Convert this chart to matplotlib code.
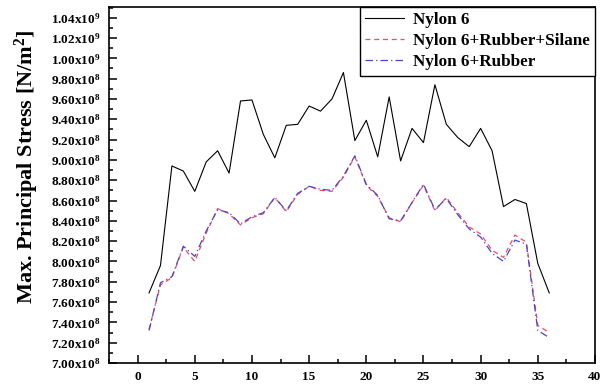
import matplotlib
matplotlib.use("Agg")
import matplotlib.pyplot as plt
from matplotlib.ticker import MultipleLocator, FixedLocator, FuncFormatter

plt.rcParams["font.family"] = ["Liberation Serif", "DejaVu Serif"]
plt.rcParams["font.weight"] = "bold"
plt.rcParams["mathtext.fontset"] = "custom"
plt.rcParams["mathtext.rm"] = "Liberation Serif:bold"
plt.rcParams["mathtext.bf"] = "Liberation Serif:bold"
plt.rcParams["mathtext.default"] = "regular"

# Element / position index along the specimen
positions = list(range(1, 37))

nylon6 = [7.69e8, 7.96e8, 8.94e8, 8.89e8, 8.69e8, 8.98e8, 9.09e8, 8.87e8, 9.58e8, 9.59e8,
          9.25e8, 9.02e8, 9.34e8, 9.35e8, 9.53e8, 9.48e8, 9.60e8, 9.86e8, 9.19e8, 9.39e8,
          9.03e8, 9.62e8, 8.99e8, 9.31e8, 9.17e8, 9.74e8, 9.35e8, 9.22e8, 9.13e8, 9.31e8,
          9.09e8, 8.54e8, 8.61e8, 8.57e8, 7.98e8, 7.69e8]

nylon6_rubber_silane = [7.33e8, 7.77e8, 7.84e8, 8.14e8, 8.00e8, 8.28e8, 8.52e8, 8.47e8, 8.36e8, 8.43e8,
                        8.47e8, 8.63e8, 8.49e8, 8.66e8, 8.74e8, 8.70e8, 8.69e8, 8.83e8, 9.03e8, 8.75e8,
                        8.64e8, 8.43e8, 8.39e8, 8.58e8, 8.75e8, 8.50e8, 8.63e8, 8.48e8, 8.34e8, 8.27e8,
                        8.11e8, 8.04e8, 8.26e8, 8.19e8, 7.37e8, 7.30e8]

nylon6_rubber = [7.32e8, 7.79e8, 7.85e8, 8.15e8, 8.05e8, 8.30e8, 8.51e8, 8.48e8, 8.37e8, 8.44e8,
                 8.48e8, 8.63e8, 8.50e8, 8.67e8, 8.74e8, 8.71e8, 8.70e8, 8.84e8, 9.04e8, 8.76e8,
                 8.65e8, 8.42e8, 8.40e8, 8.58e8, 8.76e8, 8.51e8, 8.62e8, 8.46e8, 8.32e8, 8.24e8,
                 8.08e8, 8.00e8, 8.21e8, 8.17e8, 7.32e8, 7.25e8]

labels = ["Nylon 6", "Nylon 6+Rubber+Silane", "Nylon 6+Rubber"]

fig = plt.figure(figsize=(6.07, 3.90), dpi=100)
ax = fig.add_axes([0.1796, 0.0692, 0.8006, 0.9128])

ax.plot(positions, nylon6, color="black", lw=0.8, ls="-", label=labels[0])
ax.plot(positions, nylon6_rubber_silane, color="#f04a64", lw=0.9,
        ls=(0, (4, 3)), label=labels[1])
ax.plot(positions, nylon6_rubber, color="#4a44c8", lw=0.9,
        ls=(0, (6, 2.5, 1, 2.5)), label=labels[2])

ax.set_xlim(-2.5, 40)
ax.set_ylim(7.0e8, 1.0505e9)

ax.xaxis.set_major_locator(MultipleLocator(5))
ax.xaxis.set_minor_locator(MultipleLocator(2.5))
yt = [7.0e8 + 0.2e8 * k for k in range(18)]
ax.yaxis.set_major_locator(FixedLocator(yt))
ax.yaxis.set_minor_locator(MultipleLocator(0.1e8))


def fmt_y(v, _):
    e = 9 if v >= 9.995e8 else 8
    return r"%.2fx10$^{%d}$" % (v / 10 ** e, e)


ax.yaxis.set_major_formatter(FuncFormatter(fmt_y))
ax.xaxis.set_major_formatter(FuncFormatter(lambda v, _: "%d" % v))

ax.tick_params(which="both", direction="in", top=False, right=False,
               labelsize=9.5, width=1.1)
ax.tick_params(which="major", length=6, pad=6)
ax.tick_params(which="minor", length=3)
for sp in ax.spines.values():
    sp.set_linewidth(1.2)

ax.set_ylabel(r"Max. Principal Stress [N/m$^{2}$]", fontsize=16,
              fontweight="bold")
ax.yaxis.set_label_coords(-0.140, 0.55)

leg = ax.legend(loc="upper right", borderaxespad=0, fontsize=12.3,
                handlelength=2.3, labelspacing=0.3, borderpad=0.3,
                handletextpad=0.5, fancybox=False, framealpha=1,
                edgecolor="black")
leg.get_frame().set_linewidth(1.0)

fig.savefig("out.png", dpi=100)
